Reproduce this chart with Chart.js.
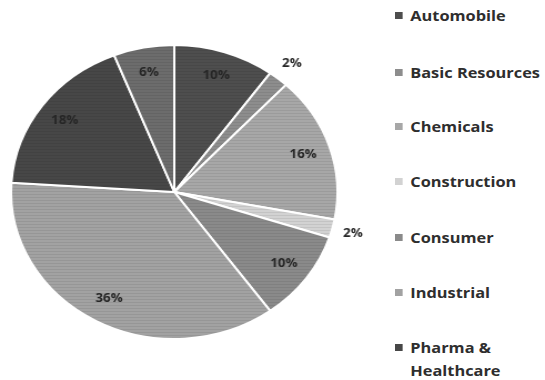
<!DOCTYPE html>
<html>
<head>
  <meta charset="utf-8" />
  <title>Sector breakdown</title>
  <style>
    body { margin: 0; background: #fff; width: 545px; height: 380px; overflow: hidden; position: relative; }
    #stage { position: absolute; left: 0; top: 0; transform: scaleX(1.11); transform-origin: 0 0; }
    #legend { position: absolute; left: 395px; top: 0; font-family: "Open Sans", "Noto Sans", sans-serif; font-weight: bold; font-size: 15px; color: #2e2e2e; transform: scaleX(1.09); transform-origin: 0 0; }
    #legend .item { position: absolute; left: 0; white-space: nowrap; line-height: 23px; }
    #legend .box { position: absolute; left: 0; top: 8px; width: 7px; height: 7px; }
    #legend .txt { position: absolute; left: 14px; top: 0; }
  </style>
</head>
<body>
  <canvas id="stage" width="340" height="380" style="width:340px;height:380px"></canvas>
  <div id="legend"></div>

  <script src="https://cdn.jsdelivr.net/npm/chart.js@4.4.0/dist/chart.umd.min.js"></script>
  <script>
    // 業種別の構成比 (%)
    const sectors = ['Automobile', 'Basic Resources', 'Chemicals', 'Construction', 'Consumer', 'Industrial', 'Pharma & Healthcare', 'Others'];
    const shares = [10, 2, 16, 2, 10, 36, 18, 6];
    const grays = ['#4e4e4e', '#8d8d8d', '#a7a7a7', '#d2d2d2', '#8a8a8a', '#a2a2a2', '#474747', '#6c6c6c'];
    const legendCount = 7;

    // 横縞の入った塗り
    function stripes(color) {
      const c = document.createElement('canvas');
      c.width = 4; c.height = 3;
      const g = c.getContext('2d');
      g.fillStyle = color;
      g.fillRect(0, 0, 4, 3);
      g.fillStyle = 'rgba(0,0,0,0.07)';
      g.fillRect(0, 2, 4, 1);
      return g.createPattern(c, 'repeat');
    }

    // 割合ラベル (小さい扇形は外側に出す)
    const pctLabels = {
      id: 'pctLabels',
      afterDatasetsDraw(chart) {
        const ctx = chart.ctx;
        const arcs = chart.getDatasetMeta(0).data;
        ctx.save();
        ctx.font = 'bold 12px "Open Sans", sans-serif';
        ctx.fillStyle = '#262626';
        ctx.textAlign = 'center';
        ctx.textBaseline = 'middle';
        arcs.forEach((arc, i) => {
          const p = arc.getProps(['x', 'y', 'startAngle', 'endAngle', 'outerRadius']);
          const mid = (p.startAngle + p.endAngle) / 2;
          const k = shares[i] < 4 ? 1.13 : 0.83;
          const r = p.outerRadius * k;
          ctx.fillText(shares[i] + '%', p.x + Math.cos(mid) * r, p.y + Math.sin(mid) * r);
        });
        ctx.restore();
      }
    };

    new Chart(document.getElementById('stage'), {
      type: 'pie',
      data: {
        labels: sectors,
        datasets: [{
          data: shares,
          backgroundColor: grays.map(stripes),
          borderColor: '#ffffff',
          borderWidth: 2
        }]
      },
      options: {
        responsive: false,
        animation: false,
        layout: { padding: { top: 44, bottom: 40, left: 9, right: 35 } },
        plugins: { legend: { display: false }, tooltip: { enabled: false } }
      },
      plugins: [pctLabels]
    });

    // 凡例
    const legend = document.getElementById('legend');
    const itemTops = [4, 61, 115, 170, 226, 281, 336];
    sectors.slice(0, legendCount).forEach((name, i) => {
      const item = document.createElement('div');
      item.className = 'item';
      item.style.top = itemTops[i] + 'px';
      const box = document.createElement('div');
      box.className = 'box';
      box.style.background = grays[i];
      const txt = document.createElement('div');
      txt.className = 'txt';
      txt.innerHTML = name.replace(' & ', ' &amp;<br>');
      item.appendChild(box);
      item.appendChild(txt);
      legend.appendChild(item);
    });
  </script>
</body>
</html>
